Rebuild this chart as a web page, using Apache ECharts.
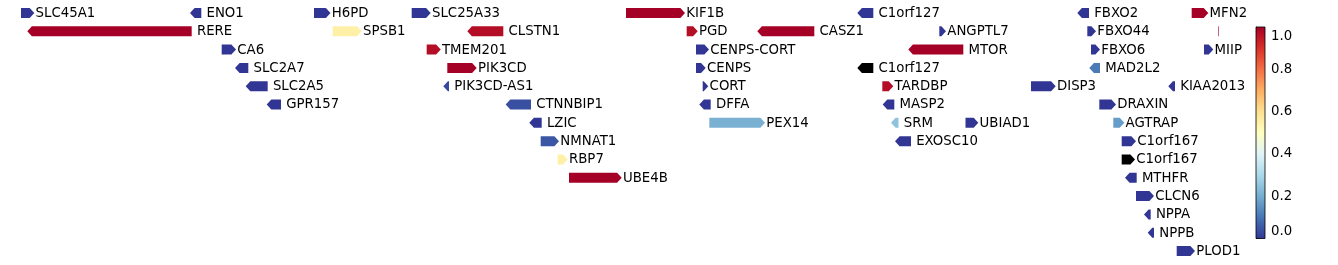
<!DOCTYPE html>
<html><head><meta charset="utf-8">
<script src="https://cdn.jsdelivr.net/npm/echarts@6/dist/echarts.min.js"></script>
<style>html,body{margin:0;padding:0;background:#fff}#c{width:1338px;height:265px}</style>
</head><body><div id="c"></div>
<script>
// Gene track data (positions in track units, row = stacking level)
const geneNames   = ['SLC45A1','ENO1','H6PD','SLC25A33','KIF1B','C1orf127','FBXO2','MFN2',
  'RERE','SPSB1','CLSTN1','PGD','CASZ1','ANGPTL7','FBXO44','',
  'CA6','TMEM201','CENPS-CORT','MTOR','FBXO6','MIIP',
  'SLC2A7','PIK3CD','CENPS','C1orf127','MAD2L2',
  'SLC2A5','PIK3CD-AS1','CORT','TARDBP','DISP3','KIAA2013',
  'GPR157','CTNNBIP1','DFFA','MASP2','DRAXIN',
  'LZIC','PEX14','SRM','UBIAD1','AGTRAP',
  'NMNAT1','EXOSC10','C1orf167',
  'RBP7','C1orf167',
  'UBE4B','MTHFR',
  'CLCN6','NPPA','NPPB','PLOD1'];
const geneStarts  = [21.0,190.0,314.0,411.7,626.0,857.3,1077.3,1191.7,
  27.3,332.7,467.3,686.7,757.3,939.3,1087.3,1218.0,
  221.7,426.7,696.0,908.3,1091.0,1204.0,
  235.0,447.3,696.0,857.3,1089.3,
  245.7,443.3,702.7,882.3,1031.0,1168.3,
  266.7,505.7,699.3,882.7,1099.3,
  529.3,709.3,891.0,965.5,1113.3,
  540.7,895.0,1121.7,
  557.7,1121.7,
  569.0,1125.0,
  1136.0,1144.0,1147.7,1176.7];
const geneEnds    = [34.3,201.3,330.5,430.7,685.0,873.3,1089.0,1208.3,
  191.7,361.7,503.3,697.7,814.3,946.0,1096.0,1218.5,
  236.0,440.7,709.0,963.3,1100.0,1213.3,
  248.3,476.7,705.7,873.3,1100.0,
  267.7,449.0,708.3,893.3,1055.7,1175.0,
  281.0,531.0,710.7,894.3,1116.0,
  541.7,765.0,898.5,978.3,1124.3,
  559.0,911.0,1136.0,
  567.7,1135.0,
  621.7,1136.7,
  1154.0,1150.7,1154.0,1195.0];
const geneStrands = [1,-1,1,1,1,-1,-1,1,
  -1,1,-1,1,-1,1,1,1,
  1,1,1,-1,1,1,
  -1,1,1,-1,-1,
  -1,-1,1,1,1,-1,
  -1,-1,-1,-1,1,
  -1,1,-1,1,1,
  1,-1,1,
  1,1,
  1,-1,
  1,-1,-1,1];
const geneRows    = [0,0,0,0,0,0,0,0,
  1,1,1,1,1,1,1,1,
  2,2,2,2,2,2,
  3,3,3,3,3,
  4,4,4,4,4,4,
  5,5,5,5,5,
  6,6,6,6,6,
  7,7,7,
  8,8,
  9,9,
  10,11,12,13];
const geneValues  = [0,0,0,0,1.0,0,0,1.0,
  1.0,0.55,0.97,0.97,1.0,0,0,1.0,
  0,0.97,0,1.0,0,0,
  0,1.0,0,null,0.11,
  0,0.03,0,0.97,0,0,
  0,0.04,0,0,0,
  0,0.21,0.25,0,0.17,
  0.05,0,0,
  0.55,null,
  1.0,0,
  0,0,0,0];
const colorbarTicks = [0, 0.2, 0.4, 0.6, 0.8, 1.0];
const cmapStops = ['#313695','#4575b4','#74add1','#abd9e9','#e0f3f8','#ffffbf',
                   '#fee090','#fdae61','#f46d43','#d73027','#a50026'];

const FONT = '13.3px "DejaVu Sans"';
function colorOf(v){
  if (v === null || v === undefined) return '#000000';
  return echarts.color.lerp(Math.max(0, Math.min(1, v)), cmapStops);
}

const geneData = geneNames.map((n, i) => [geneStarts[i], geneEnds[i], geneRows[i], i]);

function renderGene(params, api){
  const i = api.value(3);
  const s = api.coord([api.value(0), api.value(2)]);
  const e = api.coord([api.value(1), api.value(2)]);
  const h = 10, hl = 4.6;
  const x0 = s[0], y = s[1];
  let x1 = e[0];
  const children = [];
  const fill = colorOf(geneValues[i]);
  if (x1 - x0 < 2) {
    children.push({type:'rect', shape:{x:x0, y:y-h/2, width:Math.max(0.6, x1-x0), height:h}, style:{fill}});
  } else {
    const w = x1 - x0, head = Math.min(hl, w);
    let pts;
    if (geneStrands[i] > 0) pts = [[x0,y-h/2],[x1-head,y-h/2],[x1,y],[x1-head,y+h/2],[x0,y+h/2]];
    else pts = [[x1,y-h/2],[x0+head,y-h/2],[x0,y],[x0+head,y+h/2],[x1,y+h/2]];
    children.push({type:'polygon', shape:{points:pts}, style:{fill}});
  }
  if (geneNames[i]) {
    children.push({type:'text', x: x1 + (geneStrands[i] > 0 ? 1.3 : 5.2), y: y + 0.5,
      style:{text: geneNames[i], fill:'#000', font: FONT, verticalAlign:'middle', align:'left'}});
  }
  return {type:'group', children};
}

function renderBar(params, api){
  const a = api.coord([api.value(0), api.value(1)]);
  const b = api.coord([api.value(2), api.value(3)]);
  const stops = cmapStops.map((c, k) => ({offset: k / (cmapStops.length - 1), color: c}));
  return {type:'rect', shape:{x:a[0], y:b[1], width:b[0]-a[0], height:a[1]-b[1]},
    style:{fill: new echarts.graphic.LinearGradient(0, 1, 0, 0, stops), stroke:'#000', lineWidth:0.8}};
}

const chart = echarts.init(document.getElementById('c'), null, {renderer:'canvas'});
chart.setOption({
  animation: false,
  backgroundColor: '#fff',
  grid: [
    {left: 0, top: 13, width: 1338, height: 238},
    {left: 1256, top: 27, width: 9, height: 211.5}
  ],
  xAxis: [
    {gridIndex:0, type:'value', min:0, max:1338, show:false},
    {gridIndex:1, type:'value', min:0, max:1, show:false}
  ],
  yAxis: [
    {gridIndex:0, type:'value', min:0, max:13, inverse:true, show:false},
    {gridIndex:1, type:'value', min:colorbarTicks[0], max:colorbarTicks[colorbarTicks.length-1], interval:0.2,
      position:'right',
      axisLine:{show:true, lineStyle:{color:'#000', width:0.8}},
      axisTick:{show:true, inside:false, length:3.5, lineStyle:{color:'#000', width:0.8}},
      splitLine:{show:false},
      axisLabel:{show:true, color:'#000', fontSize:13.3, fontFamily:'DejaVu Sans', margin:6,
        padding:[3,0,0,0],
        verticalAlignMinLabel:'bottom', verticalAlignMaxLabel:'top',
        formatter: v => v.toFixed(1)}}
  ],
  series: [
    {type:'custom', xAxisIndex:0, yAxisIndex:0, data: geneData, renderItem: renderGene, silent:true},
    {type:'custom', xAxisIndex:1, yAxisIndex:1, data: [[0, colorbarTicks[0], 1, colorbarTicks[colorbarTicks.length-1]]], renderItem: renderBar, silent:true}
  ]
});
</script>
</body></html>
